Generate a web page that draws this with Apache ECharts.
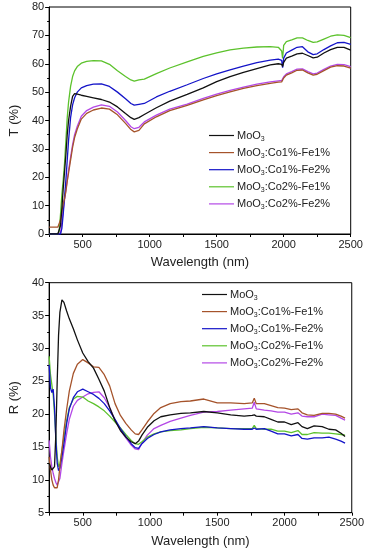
<!DOCTYPE html>
<html>
<head>
<meta charset="utf-8">
<script src="https://cdn.jsdelivr.net/npm/echarts@6/dist/echarts.min.js"></script>
<style>html,body{margin:0;padding:0;background:#fff}#c{width:367px;height:550px}</style>
</head>
<body>
<div id="c"></div>
<script>
// ---------- data ----------
var seriesNames = ['MoO3', 'MoO3:Co1%-Fe1%', 'MoO3:Co1%-Fe2%', 'MoO3:Co2%-Fe1%', 'MoO3:Co2%-Fe2%'];
var xTicks = [500, 1000, 1500, 2000, 2500];

// Top chart: transmittance T (%)
var tW = [250,300,315,325,335,345,355,365,375,385,395,410,425,440,460,490,530,580,640,700,760,820,860,885,920,960,1050,1150,1280,1400,1500,1600,1700,1800,1900,1960,1985,1992,2000,2020,2060,2100,2140,2180,2220,2250,2300,2350,2400,2450,2500];
var tMoO3 = [0,0,0,0.5,3,9,16,22,28,35,40,45,48.5,49.5,49.3,48.9,48.5,48,47.4,46.5,44.8,42.5,41,40.4,41,42.1,44.5,46.8,49.2,51.5,53.7,55.5,57,58.3,59.6,60,59.8,59,60.5,62,62.7,63.5,63.7,62.9,62.1,62.3,63.8,65,65.8,65.8,64.8];
var tCo1Fe1 = [2.4,2.4,2.4,3,5,8,10.5,12.5,15,18.5,21.5,26,30.5,34,37,40.5,42.5,43.7,44.4,44,42,39,36.8,36,36.5,38.8,41.3,43.5,45.3,47.3,48.8,50.1,51.3,52.3,53.1,53.5,53.6,54.2,55,56,56.8,57.7,57.8,56.8,56,56.3,57.6,58.8,59.3,59.2,58.5];
var tCo1Fe2 = [0,0,0,0,0,2,7,13,19,26,33,41,45.5,48,50,51.5,52.3,52.8,52.9,52,50,47.7,46,45.4,45.7,46,48.3,50.3,52.6,54.8,56.4,57.8,59.2,60.4,61.3,61.6,61.2,58.6,62,63.8,64.8,65.8,66,64.2,63.2,63.5,65,66.3,67.4,67.5,66.8];
var tCo2Fe1 = [0,0,0,1,7,14,19,25,33,41,46.5,52,55.5,57.5,59,60.2,60.8,61.1,61,59.8,57.5,55.5,54.3,53.9,54.3,54.6,56.5,58.5,60.7,62.6,63.8,64.9,65.5,65.9,66,65.8,64.5,61.9,66.5,67.8,68.4,69.1,69.1,68.2,67.5,67.7,68.7,69.7,70.2,70,69.2];
var tCo2Fe2 = [0,0,0,0,0.5,4,8.5,12,15.5,19,22.5,27,31.5,35,38,41.5,43.5,44.7,45.5,45,43,40,37.8,37.1,37.6,39.5,41.9,44,45.8,47.8,49.3,50.6,51.8,52.8,53.6,54,54.1,54.6,55.4,56.4,57.2,58.1,58.2,57.2,56.4,56.7,58,59.2,59.8,59.7,59];

// Bottom chart: reflectance R (%)
var rW = [250,260,270,280,290,300,310,320,330,345,360,380,400,430,460,500,540,580,620,660,700,740,780,820,860,890,915,940,980,1030,1080,1150,1230,1300,1400,1500,1600,1700,1760,1775,1790,1850,1900,1950,2000,2050,2100,2130,2170,2220,2280,2330,2380,2420,2450];
var rMoO3 = [12.5,12,11.5,11.3,12,17,25,32,35.5,37.4,37,35.7,34.5,33,31.3,29.3,28,27,25.3,23.5,21,19,17.5,16.5,15.8,15.5,15.9,16.8,18,19,19.6,19.9,20.1,20.2,20.4,20.2,19.9,19.7,19.8,19.9,19.7,19.6,19.2,18.8,18.8,18.4,18.7,18.1,17.8,18.2,18.1,17.7,17.6,17.1,16.6];
var rCo1Fe1 = [13.5,11.5,10,9.2,8.8,8.6,8.8,10,12,14.5,17.5,20.7,23.5,26.2,27.6,28.3,27.8,27.2,27.1,26,24.3,21.6,19.8,18.6,17.6,17,16.9,17.6,18.8,20.1,21,21.6,21.9,22,22.3,21.7,21.7,21.6,21.7,22.4,21.6,21.6,21.3,21,20.9,20.7,20.8,20.2,19.9,19.8,20.1,20.1,20,19.7,19.4];
var rCo1Fe2 = [27.5,24,23.3,23.8,21,16,12.5,11.4,11.8,13.5,15.5,18.5,20.8,22.5,23.4,23.8,23.4,23,22.4,21.6,20.5,19.2,17.8,16.6,15.5,14.9,14.8,15.5,16.3,16.9,17.3,17.6,17.8,17.9,18.1,17.9,17.8,17.7,17.7,17.9,17.7,17.8,17.4,17,17,16.7,16.9,16.3,16.2,16.4,16.4,16.5,16.2,15.9,15.6];
var rCo2Fe1 = [28.8,26,24.5,23,20,16.5,13.5,12,12.4,14.5,16.5,19,21,22.3,22.7,22.6,22,21.6,21.1,20.5,19.7,18.8,17.9,16.9,16,15.5,15.4,15.8,16.5,17,17.3,17.5,17.6,17.8,18,17.9,17.8,17.8,17.8,18.3,17.8,17.7,17.7,17.4,17.4,17.2,17.5,16.9,16.9,17.2,17.1,17.1,17,16.9,16.8];
var rCo2Fe2 = [16,13.5,12,11,10.2,9.6,9.2,9.3,10.2,12.5,14.5,17,19.2,21.2,22.1,22.6,23.1,23.3,23.4,22.5,21,19.1,17.6,16.4,15.3,14.7,14.6,15.6,16.8,17.8,18.3,18.9,19.4,19.8,20.3,20.4,20.6,20.8,20.9,21.8,20.8,20.6,20.5,20.3,20.3,20,20.2,19.7,19.6,19.6,20,19.9,19.8,19.4,19.1];

// ---------- chart ----------
var colors = ['#111111', '#a5532b', '#1414c8', '#5cc22c', '#b448e6'];
var FONT = 'Liberation Sans, Arial, sans-serif';

function pairs(xs, ys) { return xs.map(function (x, i) { return [x, ys[i]]; }); }

var topData = [tMoO3, tCo1Fe1, tCo1Fe2, tCo2Fe1, tCo2Fe2];
var botData = [rMoO3, rCo1Fe1, rCo1Fe2, rCo2Fe1, rCo2Fe2];

var series = [];
seriesNames.forEach(function (n, i) {
  series.push({ name: n, type: 'line', xAxisIndex: 0, yAxisIndex: 0, showSymbol: false, symbol: 'none',
    lineStyle: { width: 1.3, color: colors[i] }, itemStyle: { color: colors[i] }, data: pairs(tW, topData[i]), z: 10 - i });
});
seriesNames.forEach(function (n, i) {
  series.push({ name: n, type: 'line', xAxisIndex: 1, yAxisIndex: 1, showSymbol: false, symbol: 'none',
    lineStyle: { width: 1.3, color: colors[i] }, itemStyle: { color: colors[i] }, data: pairs(rW, botData[i]), z: 10 - i });
});

function xAxis(gi) {
  return {
    type: 'value', gridIndex: gi, min: 250, max: 2500, interval: 250,
    name: 'Wavelength (nm)', nameLocation: 'middle', nameGap: 22,
    nameTextStyle: { fontFamily: FONT, fontSize: 13, color: '#222' },
    axisLine: { show: true, onZero: false, lineStyle: { color: '#000', width: 1 } },
    axisTick: { show: true, inside: false, length: 3, lineStyle: { color: '#000' } },
    axisLabel: { fontFamily: FONT, fontSize: 11, color: '#222', margin: 5,
      formatter: function (v) { return (xTicks.indexOf(v) >= 0) ? String(v) : ''; } },
    splitLine: { show: false }
  };
}
function yAxis(gi, min, max, interval, name, gap) {
  return {
    type: 'value', gridIndex: gi, min: min, max: max, interval: interval,
    name: name, nameLocation: 'middle', nameGap: gap,
    nameTextStyle: { fontFamily: FONT, fontSize: 13, color: '#222' },
    axisLine: { show: true, onZero: false, lineStyle: { color: '#000', width: 1 } },
    axisTick: { show: true, inside: false, length: 4, lineStyle: { color: '#000' } },
    minorTick: { show: true, splitNumber: 2, length: 2, lineStyle: { color: '#000' } },
    axisLabel: { fontFamily: FONT, fontSize: 11, color: '#222', margin: 5 },
    splitLine: { show: false }
  };
}

function legendFmt(name) {
  var rest = name.slice(4);
  return '{a|MoO}{s|3}' + (rest ? '{a|' + rest + '}' : '');
}
var rich = {
  a: { fontFamily: FONT, fontSize: 11, color: '#222', lineHeight: 14 },
  s: { fontFamily: FONT, fontSize: 7, color: '#222', lineHeight: 14, verticalAlign: 'bottom', padding: [5, 0, 0, 0] }
};
function legend(left, top) {
  return {
    data: seriesNames, orient: 'vertical', left: left, top: top,
    itemWidth: 25, itemHeight: 10, itemGap: 4.6, selectedMode: false,
    formatter: legendFmt, textStyle: { fontFamily: FONT, fontSize: 11, color: '#222', rich: rich, padding: [0,0,0,-2] },
    icon: 'path://M0,5 L25,5 L25,6.2 L0,6.2 Z'
  };
}

var option = {
  animation: false,
  backgroundColor: '#fff',
  grid: [
    { left: 42.8, right: 16.3, top: 7, height: 227, show: true, borderColor: '#000', borderWidth: 1, backgroundColor: 'transparent' },
    { left: 45.7, right: 13, top: 282.7, height: 230, show: true, borderColor: '#000', borderWidth: 1, backgroundColor: 'transparent' }
  ],
  xAxis: [xAxis(0), xAxis(1)],
  yAxis: [yAxis(0, 0, 80, 10, 'T (%)', 24), yAxis(1, 5, 40, 5, 'R (%)', 26)],
  legend: [legend(204, 125), legend(197, 284)],
  series: series
};

var chart = echarts.init(document.getElementById('c'), null, { renderer: 'canvas' });
chart.setOption(option);
</script>
</body>
</html>
